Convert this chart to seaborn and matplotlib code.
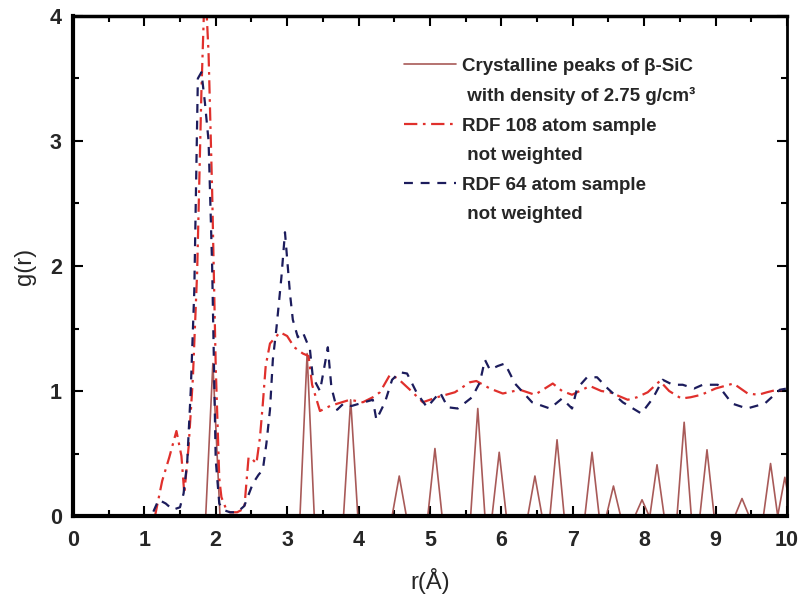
import matplotlib
matplotlib.use("Agg")
import matplotlib.pyplot as plt
from matplotlib.lines import Line2D
from matplotlib.ticker import MultipleLocator
import numpy as np
import pandas as pd
import seaborn as sns

# Crystalline beta-SiC reference peaks (position in Angstrom, height)
peak_r = [1.96, 3.28, 3.89, 4.57, 5.07, 5.67, 5.97, 6.47, 6.78, 7.27,
          7.57, 7.97, 8.18, 8.56, 8.88, 9.37, 9.77, 9.97]
peak_h = [1.22, 1.30, 0.93, 0.32, 0.54, 0.86, 0.51, 0.32, 0.61, 0.51,
          0.24, 0.13, 0.41, 0.75, 0.53, 0.14, 0.42, 0.31]
peak_halfwidth = 0.1

# RDF of the 108 atom sample
r108 = [0.0, 1.15, 1.25, 1.35, 1.45, 1.52, 1.56, 1.62, 1.68, 1.74, 1.80,
        1.85, 1.90, 1.95, 2.00, 2.05, 2.08, 2.15, 2.20, 2.30, 2.40, 2.46,
        2.52, 2.57, 2.62, 2.66, 2.70, 2.76, 2.90, 3.00, 3.10, 3.22, 3.30,
        3.35, 3.46, 3.60, 3.71, 3.88, 4.06, 4.20, 4.30, 4.44, 4.55, 4.72,
        4.90, 5.10, 5.35, 5.56, 5.65, 5.84, 6.02, 6.26, 6.47, 6.72, 6.85,
        6.99, 7.24, 7.40, 7.52, 7.77, 7.90, 8.05, 8.22, 8.35, 8.52, 8.65,
        8.80, 9.00, 9.25, 9.45, 9.60, 9.72, 9.86, 10.0]
g108 = [0.0, 0.0, 0.28, 0.47, 0.68, 0.48, 0.18, 0.55, 1.10, 1.95, 3.40,
        4.30, 3.70, 2.60, 1.20, 0.30, 0.15, 0.05, 0.03, 0.03, 0.06, 0.47,
        0.45, 0.42, 0.63, 0.90, 1.20, 1.38, 1.47, 1.44, 1.35, 1.30, 1.28,
        1.05, 0.84, 0.88, 0.90, 0.93, 0.91, 0.95, 0.99, 1.13, 1.10, 1.01,
        0.91, 0.95, 0.99, 1.07, 1.08, 1.02, 0.98, 1.01, 0.97, 1.06, 1.00,
        0.97, 1.04, 1.00, 0.99, 0.93, 0.95, 0.99, 1.08, 1.00, 0.94, 0.95,
        0.97, 1.02, 1.06, 0.98, 0.97, 0.99, 1.01, 1.00]

# RDF of the 64 atom sample
r64 = [0.0, 1.10, 1.20, 1.30, 1.40, 1.50, 1.55, 1.60, 1.65, 1.70, 1.75,
       1.80, 1.85, 1.90, 1.95, 2.00, 2.05, 2.10, 2.20, 2.30, 2.40, 2.52,
       2.60, 2.66, 2.71, 2.76, 2.80, 2.85, 2.92, 2.97, 3.04, 3.08, 3.15,
       3.22, 3.32, 3.36, 3.46, 3.53, 3.57, 3.62, 3.70, 3.79, 3.90, 4.02,
       4.20, 4.25, 4.37, 4.47, 4.58, 4.68, 4.82, 4.96, 5.14, 5.25, 5.39,
       5.59, 5.70, 5.77, 5.84, 5.95, 6.05, 6.19, 6.43, 6.68, 6.85, 6.99,
       7.06, 7.20, 7.34, 7.49, 7.70, 7.96, 8.12, 8.26, 8.40, 8.54, 8.70,
       8.82, 9.03, 9.23, 9.44, 9.69, 9.90, 10.0]
g64 = [0.0, 0.0, 0.13, 0.10, 0.05, 0.07, 0.18, 0.42, 1.00, 1.80, 3.50,
       3.55, 3.30, 3.00, 2.00, 0.45, 0.10, 0.05, 0.03, 0.03, 0.08, 0.26,
       0.33, 0.37, 0.58, 0.85, 1.25, 1.50, 1.91, 2.27, 1.78, 1.57, 1.43,
       1.47, 1.33, 1.11, 1.00, 1.22, 1.35, 1.03, 0.85, 0.90, 0.88, 0.90,
       0.93, 0.77, 0.91, 1.09, 1.15, 1.14, 0.98, 0.87, 0.99, 0.87, 0.86,
       0.95, 1.07, 1.25, 1.17, 1.20, 1.22, 1.06, 0.91, 0.86, 0.94, 0.86,
       1.02, 1.11, 1.11, 1.02, 0.91, 0.82, 0.94, 1.09, 1.05, 1.05, 1.02,
       1.05, 1.05, 0.90, 0.86, 0.90, 1.01, 1.02]

legend_labels = ["Crystalline peaks of \u03b2-SiC",
                 " with density of 2.75 g/cm\u00b3",
                 "RDF 108 atom sample",
                 " not weighted",
                 "RDF 64 atom sample",
                 " not weighted"]

# Triangular profile through the crystalline peaks
cr_r, cr_g = [0.0], [0.0]
for p, h in zip(peak_r, peak_h):
    cr_r += [p - peak_halfwidth, p, p + peak_halfwidth]
    cr_g += [0.0, h, 0.0]
crystal = pd.DataFrame({"r": cr_r, "g": cr_g})
rdf108 = pd.DataFrame({"r": r108, "g": g108})
rdf64 = pd.DataFrame({"r": r64, "g": g64})

sns.set_theme(style="ticks")
plt.rcParams["font.family"] = ["Liberation Sans", "DejaVu Sans"]

c_cryst = "#a85a58"
c_108 = "#e0302c"
c_64 = "#1c1c5c"
ls_108 = (0, (6, 2.5, 1.2, 2.5))
ls_64 = (0, (4, 3.5))

fig = plt.figure(figsize=(8.01, 6.01), dpi=100)
ax = fig.add_axes([0.091, 0.1414, 0.8915, 0.832])

sns.lineplot(data=crystal, x="r", y="g", ax=ax, color=c_cryst, lw=1.2,
             estimator=None, sort=False)
sns.lineplot(data=rdf108, x="r", y="g", ax=ax, color=c_108, lw=1.6,
             estimator=None, linestyle=ls_108)
sns.lineplot(data=rdf64, x="r", y="g", ax=ax, color=c_64, lw=1.6,
             estimator=None, linestyle=ls_64)

ax.set_xlim(0, 10)
ax.set_ylim(0, 4)
ax.xaxis.set_major_locator(MultipleLocator(1))
ax.xaxis.set_minor_locator(MultipleLocator(0.5))
ax.yaxis.set_major_locator(MultipleLocator(1))
ax.yaxis.set_minor_locator(MultipleLocator(0.5))
ax.tick_params(which="both", direction="in", top=True, right=True,
               width=1.5, color="black")
ax.tick_params(which="major", length=7, labelsize=15.5)
ax.tick_params(axis="x", which="major", pad=10)
ax.tick_params(axis="y", which="major", pad=8)
ax.tick_params(which="minor", length=4)
for lab in ax.get_xticklabels() + ax.get_yticklabels():
    lab.set_fontweight("bold")
for side, w in [("left", 3), ("bottom", 3), ("top", 2.5), ("right", 2)]:
    ax.spines[side].set_linewidth(w)
    ax.spines[side].set_color("black")

ax.set_xlabel("r(\u00c5)", fontsize=17, labelpad=12)
ax.set_ylabel("g(r)", fontsize=17, labelpad=10)

blank = Line2D([], [], linestyle="none")
handles = [
    Line2D([], [], color=c_cryst, lw=1.2), blank,
    Line2D([], [], color=c_108, lw=1.6, linestyle=ls_108), blank,
    Line2D([], [], color=c_64, lw=1.6, linestyle=ls_64), blank,
]
ax.legend(handles, legend_labels, loc="upper left",
          bbox_to_anchor=(0.44, 0.95), frameon=False,
          prop={"weight": "bold", "size": 13.5}, handlelength=2.8,
          handletextpad=0.3, labelspacing=0.66)

fig.savefig("out.png", dpi=100, facecolor="white")
